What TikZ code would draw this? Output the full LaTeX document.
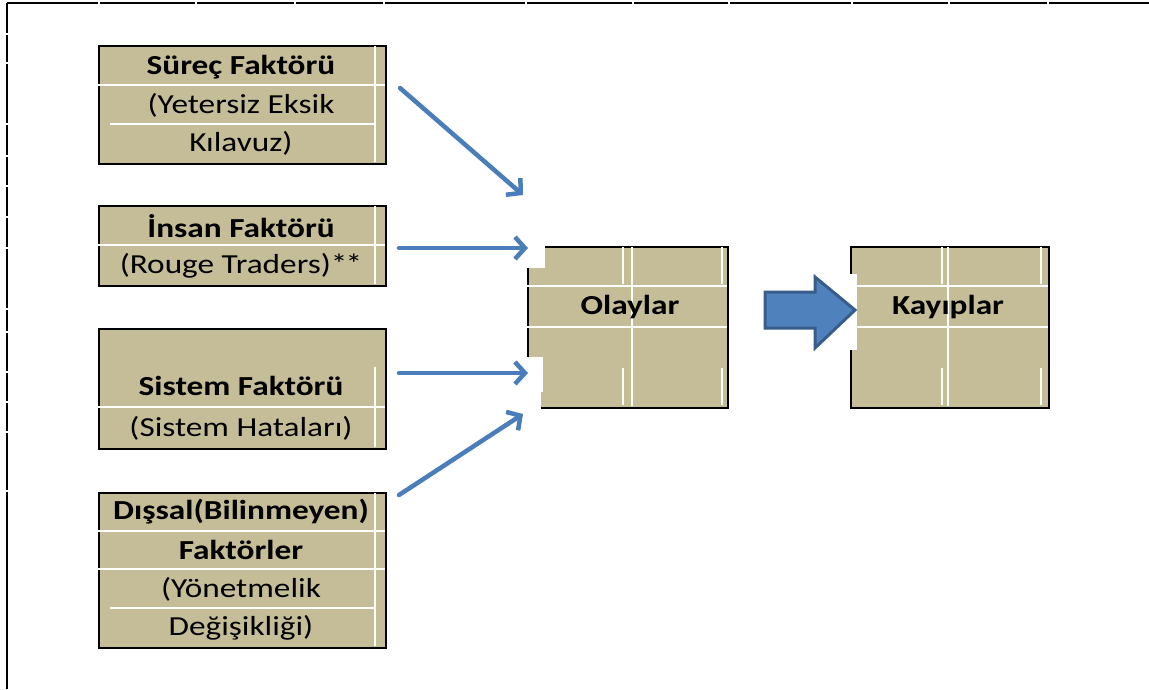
\documentclass[tikz,border=0pt]{standalone}
\usepackage{fontspec}
\setmainfont{Carlito}
\usepackage{graphicx}
\usetikzlibrary{arrows.meta}
\definecolor{tanfill}{HTML}{C4BD97}
\definecolor{arrcol}{HTML}{4A7EBB}
\definecolor{blockfill}{HTML}{4F81BD}
\definecolor{blockdraw}{HTML}{385D8A}
\newcommand{\wt}[1]{\scalebox{1.21}[1]{#1}}
\begin{document}
\begin{tikzpicture}[x=1pt,y=-1pt,
  cell/.style={draw=black, line width=1.5pt, fill=tanfill, anchor=north west, inner sep=0pt, minimum width=287pt},
  sep/.style={white, line width=1.8pt},
  gapw/.style={white, line width=2.2pt},
  lbl/.style={font=\fontsize{27.5}{32}\selectfont, inner sep=0pt, anchor=center},
  blbl/.style={font=\fontsize{27.5}{32}\selectfont\bfseries, inner sep=0pt, anchor=center},
  thinarrow/.style={arrcol, line width=4.5pt, line cap=round, -{Straight Barb[length=10pt,width=22pt,line width=4.5pt]}},
]
\useasboundingbox (0,0) rectangle (1149,689);
\fill[white] (0,0) rectangle (1149,689);

% outer frame lines of the page-table
\draw[black, line width=1.5pt] (7,3) -- (1149,3);
\draw[black, line width=1.5pt] (7,3) -- (7,689);
\foreach \gx in {99,196,295,384,526,633,729,852,949,1048}
  \draw[gapw] (\gx-1,3) -- (\gx+1,3);
\foreach \gy in {34,63,124,156,186,217,248,309,332,372,402,432,491}
  \draw[gapw] (7,\gy-1) -- (7,\gy+1);

% ---- Box 1: Surec
\node[cell, minimum height=118pt] (surec) at (98,45) {};
\draw[sep] (98,85) -- (385,85);
\draw[sep] (110,124) -- (375,124);
\draw[sep] (375,46) -- (375,162);
\node[blbl] (surecA) at (241,67) {\wt{Süreç Faktörü}};
\node[lbl] (surecB) at (241,105) {\wt{(Yetersiz Eksik}};
\node[lbl] (surecC) at (241,143) {\wt{Kılavuz)}};

% ---- Box 2: Insan
\node[cell, minimum height=80pt] (insan) at (98,205) {};
\draw[sep] (98,245) -- (385,245);
\draw[sep] (375,206) -- (375,284);
\node[blbl] (insanA) at (241,226) {\wt{İnsan Faktörü}};
\node[lbl] (insanB) at (241,266) {\wt{(Rouge Traders)*\kern-1.5pt*}};

% ---- Box 3: Sistem
\node[cell, minimum height=120pt] (sistem) at (98,328) {};
\draw[sep] (98,407) -- (385,407);
\draw[sep] (375,367) -- (375,447);
\node[blbl] (sistemA) at (241,386) {\wt{Sistem Faktörü}};
\node[lbl] (sistemB) at (241,428) {\wt{(Sistem Hataları)}};

% ---- Box 4: Dissal
\node[cell, minimum height=155pt] (dissal) at (98,492) {};
\draw[sep] (98,531) -- (385,531);
\draw[sep] (98,569) -- (385,569);
\draw[sep] (110,608) -- (375,608);
\draw[sep] (375,493) -- (375,646);
\node[blbl] (dissalA) at (241,512) {\wt{Dışsal(Bilinmeyen)}};
\node[blbl] (dissalB) at (241,550) {\wt{Faktörler}};
\node[lbl] (dissalC) at (241,589) {\wt{(Yönetmelik}};
\node[lbl] (dissalD) at (241,628) {\wt{Değişikliği)}};

% ---- Olaylar
\node[cell, minimum width=200pt, minimum height=161pt] (olay) at (527,246) {};
\draw[sep] (527,286) -- (727,286);
\draw[sep] (527,327) -- (727,327);
\draw[sep] (632,247) -- (632,406);
\draw[sep] (623,247) -- (623,284);
\draw[sep] (623,368) -- (623,405);
\draw[sep] (722,247) -- (722,284);
\draw[sep] (722,368) -- (722,405);
\fill[white] (525,244) rectangle (545,268);
\fill[white] (525,357) rectangle (543,392);
\fill[white] (525,392) rectangle (541,409);
\node[blbl] (olayT) at (630,307) {\wt{Olaylar}};

% ---- Kayiplar
\node[cell, minimum width=198pt, minimum height=161pt] (kayip) at (850,246) {};
\draw[sep] (850,286) -- (1048,286);
\draw[sep] (850,327) -- (1048,327);
\draw[sep] (948,247) -- (948,406);
\draw[sep] (942,247) -- (942,284);
\draw[sep] (942,368) -- (942,405);
\draw[sep] (1041,247) -- (1041,284);
\draw[sep] (1041,368) -- (1041,405);
\fill[white] (848,274) rectangle (857,350);
\node[blbl] (kayipT) at (948,307) {\wt{Kayıplar}};

% ---- thin arrows
\coordinate (a1s) at (400,88);  \coordinate (a1e) at (523,195);
\coordinate (a2s) at (399,248); \coordinate (a2e) at (528,248);
\coordinate (a3s) at (399,373); \coordinate (a3e) at (528,373);
\coordinate (a4s) at (399,495); \coordinate (a4e) at (523,414);
\draw[thinarrow] (a1s) -- (a1e);
\draw[thinarrow] (a2s) -- (a2e);
\draw[thinarrow] (a3s) -- (a3e);
\draw[thinarrow] (a4s) -- (a4e);

% ---- block arrow
\draw[fill=blockfill, draw=blockdraw, line width=3pt, line join=miter]
  (765,292) -- (815,292) -- (815,277) -- (855,310) -- (815,348) -- (815,328) -- (765,328) -- cycle;
\end{tikzpicture}
\end{document}
